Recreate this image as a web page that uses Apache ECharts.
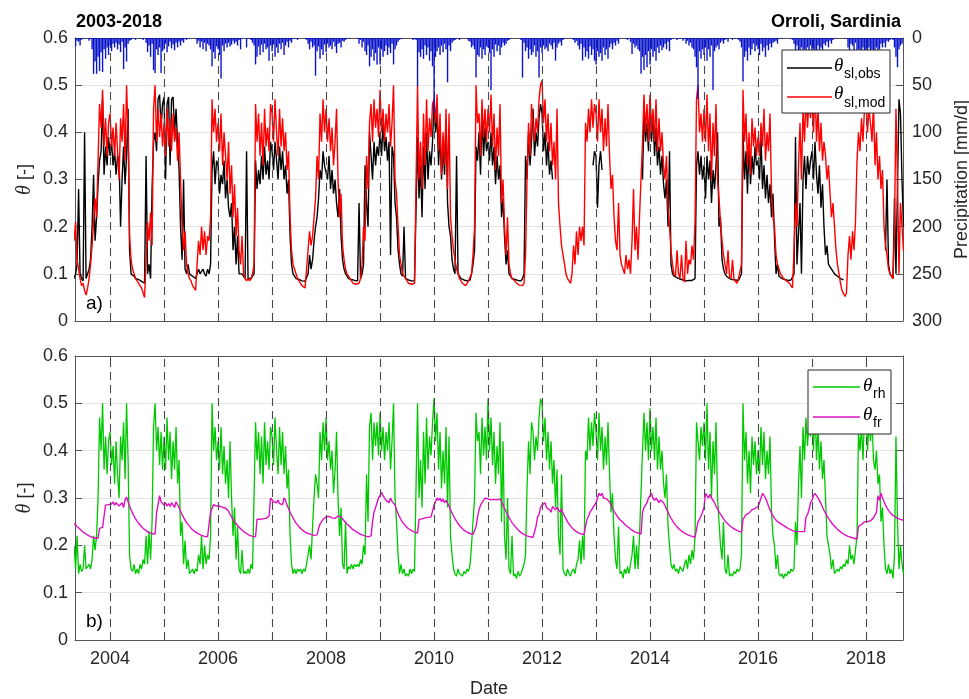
<!DOCTYPE html>
<html>
<head>
<meta charset="utf-8">
<script src="https://cdn.jsdelivr.net/npm/echarts@6/dist/echarts.min.js"></script>
<style>
  html, body { margin: 0; padding: 0; background: #fff; }
  #chart { width: 969px; height: 699px; }
</style>
</head>
<body>
<div id="chart"></div>
<script>
// Samples every 10 days (1st, 11th, 21st of each month), May 2003 to Sep 2018.
// One line per year; 2003 starts at May 1, 2018 ends at Sep 11.
const firstYear = 2003, lastYear = 2018;
const firstSlot = 12, lastSlot = 25;

// Observed soil-layer moisture (null = no measurement)
const thetaObs = [
/*2003*/ 0.09,0.10,0.12, 0.28,0.10,0.09, 0.085,0.40,0.09, 0.10,0.11,0.13, 0.20,0.31,0.17, 0.22,0.29,0.34, 0.36,0.47,0.31, 0.37,0.33,0.39,
/*2004*/ 0.35,0.38,0.33, 0.36,0.31,0.35, 0.34,0.20,0.30, 0.37,0.29,0.35, 0.45,0.15,0.10, 0.10,0.095,0.09, 0.09,0.088,0.085, 0.084,0.082,0.08, 0.35,0.10,0.12, 0.09,0.28,0.38, 0.40,0.36,0.47, 0.48,0.41,0.46,
/*2005*/ 0.475,0.30,0.46, 0.475,0.33,0.47, 0.475,0.40,0.45, 0.38,0.32,0.20, 0.13,0.30,0.11, 0.10,0.12,0.10, 0.10,0.095,0.092, 0.09,0.10,0.11, 0.10,0.105,0.11, 0.10,0.095,0.11, 0.10,0.12,0.32, 0.36,0.29,0.34,
/*2006*/ 0.33,0.27,0.31, 0.29,0.34,0.26, 0.30,0.24,0.22, 0.25,0.15,0.20, 0.12,0.18,0.10, 0.10,0.10,0.095, 0.09,0.36,0.09, 0.088,0.09,0.095, 0.10,0.34,0.28, 0.32,0.29,0.35, 0.30,0.37,0.31, 0.34,0.30,0.38,
/*2007*/ 0.36,0.32,0.38, 0.34,0.30,0.37, 0.32,0.36,0.30, 0.33,0.27,0.30, 0.18,0.12,0.10, 0.095,0.09,0.09, 0.088,0.086,0.085, 0.085,0.084,0.083, 0.10,0.14,0.11, 0.13,0.17,0.20, 0.22,0.26,0.32, 0.30,0.36,0.33,
/*2008*/ 0.33,0.30,0.35, 0.28,0.32,0.27, 0.30,0.25,0.22, 0.28,0.18,0.13, 0.11,0.10,0.095, 0.09,0.09,0.088, 0.087,0.086,0.085, 0.085,0.25,0.09, 0.10,0.12,0.33, 0.25,0.20,0.40, 0.35,0.30,0.38, 0.33,0.37,0.35,
/*2009*/ 0.40,0.35,0.42, 0.36,0.39,0.34, 0.38,0.14,0.37, 0.35,0.25,0.22, 0.15,0.12,0.10, 0.095,0.20,0.09, 0.088,0.087,0.086, 0.085,0.085,0.085, 0.085,0.39,0.26, 0.33,0.22,0.37, 0.28,0.40,0.30, 0.36,0.33,0.38,
/*2010*/ 0.47,0.40,0.44, 0.33,0.40,0.30, 0.37,0.31,0.42, 0.25,0.20,0.18, 0.13,0.11,0.10, 0.35,0.10,0.095, 0.09,0.088,0.087, 0.086,0.085,0.086, 0.087,0.10,0.12, 0.15,0.37,0.34, 0.40,0.31,0.44, 0.35,0.41,0.36,
/*2011*/ 0.38,0.34,0.40, 0.33,0.37,0.29, 0.35,0.30,0.33, 0.22,0.26,0.18, 0.12,0.15,0.10, 0.095,0.09,0.09, 0.088,0.087,0.086, 0.085,0.085,0.09, 0.10,0.35,0.30, 0.40,0.33,0.38, 0.45,0.35,0.40, 0.37,0.43,0.46,
/*2012*/ 0.44,0.36,0.40, 0.33,0.38,0.31, 0.34,0.30,null, null,null,null, null,null,null, null,null,null, null,null,null, null,null,null, null,null,null, null,null,null, null,null,null, null,0.33,0.36,
/*2013*/ 0.35,0.24,0.33, 0.36,0.32,null, null,null,null, null,null,null, null,null,null, null,null,null, null,null,null, null,null,null, null,null,null, null,null,null, null,0.30,0.45, 0.38,0.42,0.36,
/*2014*/ 0.47,0.38,0.44, 0.35,0.41,0.33, 0.37,0.31,0.35, 0.29,0.26,0.30, 0.20,0.36,0.12, 0.10,0.095,0.093, 0.092,0.09,0.089, 0.088,0.087,0.086, 0.085,0.085,0.086, 0.085,0.086,0.088, 0.09,0.33,0.36, 0.31,0.35,0.30,
/*2015*/ 0.33,0.26,0.35, 0.30,0.34,0.25, 0.32,0.28,0.33, 0.40,0.20,0.22, 0.13,0.11,0.10, 0.095,0.093,0.09, 0.09,0.088,0.087, 0.087,0.086,0.086, 0.088,0.10,0.40, 0.30,0.36,0.27, 0.38,0.29,0.35, 0.31,0.37,0.33,
/*2016*/ 0.34,0.30,0.39, 0.28,0.33,0.26, 0.31,0.25,0.29, 0.22,0.27,0.18, 0.10,0.12,0.095, 0.092,0.09,0.089, 0.088,0.087,0.086, 0.086,0.087,0.088, 0.10,0.39,0.12, 0.12,0.25,0.10, 0.30,0.35,0.28, 0.35,0.31,0.34,
/*2017*/ 0.36,0.30,0.38, 0.31,0.27,0.33, 0.24,0.29,0.20, 0.14,0.16,0.12, 0.115,0.11,0.105, 0.10,0.098,0.095, 0.093,0.09,0.088, 0.087,null,null, null,null,null, null,null,null, null,null,null, null,null,null,
/*2018*/ null,null,null, null,null,null, null,null,null, null,null,null, null,0.15,0.30, 0.12,0.10,0.095, 0.09,0.26,0.10, 0.10,0.47,0.44, 0.30,0.20
];

// Modelled soil-layer moisture
const thetaMod = [
/*2003*/ 0.17,0.21,0.13, 0.11,0.09,0.075, 0.08,0.065,0.055, 0.07,0.09,0.12, 0.16,0.21,0.26, 0.22,0.34,0.46, 0.41,0.49,0.37, 0.43,0.35,0.42,
/*2004*/ 0.44,0.37,0.41, 0.35,0.42,0.36, 0.30,0.43,0.38, 0.46,0.34,0.50, 0.40,0.18,0.13, 0.11,0.10,0.09, 0.085,0.08,0.075, 0.07,0.06,0.05, 0.13,0.21,0.17, 0.23,0.16,0.45, 0.50,0.38,0.45, 0.39,0.44,0.37,
/*2005*/ 0.42,0.35,0.45, 0.37,0.43,0.36, 0.44,0.38,0.41, 0.34,0.40,0.30, 0.20,0.15,0.19, 0.12,0.10,0.09, 0.085,0.075,0.07, 0.065,0.12,0.17, 0.14,0.20,0.15, 0.19,0.14,0.18, 0.17,0.22,0.47, 0.40,0.45,0.38,
/*2006*/ 0.42,0.36,0.44, 0.33,0.40,0.35, 0.30,0.38,0.27, 0.33,0.22,0.29, 0.18,0.24,0.15, 0.12,0.18,0.10, 0.09,0.085,0.09, 0.085,0.09,0.10, 0.12,0.46,0.38, 0.44,0.35,0.42, 0.33,0.45,0.37, 0.41,0.36,0.46,
/*2007*/ 0.44,0.38,0.47, 0.40,0.35,0.45, 0.37,0.43,0.36, 0.40,0.32,0.36, 0.22,0.15,0.12, 0.11,0.10,0.09, 0.085,0.08,0.075, 0.075,0.07,0.068, 0.15,0.19,0.16, 0.18,0.22,0.26, 0.35,0.30,0.44, 0.38,0.47,0.40,
/*2008*/ 0.45,0.38,0.43, 0.36,0.41,0.33, 0.38,0.45,0.30, 0.22,0.27,0.16, 0.13,0.11,0.10, 0.095,0.09,0.085, 0.08,0.08,0.078, 0.075,0.08,0.09, 0.12,0.20,0.17, 0.35,0.28,0.42, 0.46,0.38,0.47, 0.41,0.45,0.39,
/*2009*/ 0.49,0.40,0.45, 0.38,0.44,0.40, 0.46,0.37,0.42, 0.50,0.30,0.27, 0.20,0.14,0.12, 0.10,0.095,0.09, 0.085,0.08,0.08, 0.078,0.075,0.08, 0.08,0.50,0.30, 0.38,0.28,0.44, 0.33,0.47,0.36, 0.43,0.39,0.46,
/*2010*/ 0.47,0.42,0.48, 0.36,0.44,0.31, 0.40,0.33,0.45, 0.28,0.44,0.22, 0.18,0.15,0.13, 0.11,0.10,0.09, 0.085,0.08,0.078, 0.075,0.08,0.085, 0.085,0.10,0.14, 0.20,0.50,0.42, 0.44,0.35,0.47, 0.39,0.45,0.38,
/*2011*/ 0.45,0.40,0.48, 0.37,0.44,0.32, 0.41,0.35,0.46, 0.25,0.30,0.20, 0.14,0.22,0.12, 0.10,0.09,0.088, 0.085,0.08,0.078, 0.076,0.074,0.075, 0.08,0.14,0.30, 0.42,0.35,0.46, 0.46,0.38,0.43, 0.40,0.47,0.50,
/*2012*/ 0.51,0.42,0.47, 0.38,0.44,0.36, 0.42,0.33,0.38, 0.30,0.45,0.25, 0.20,0.16,0.14, 0.12,0.10,0.09, 0.085,0.08,0.10, 0.16,0.12,0.19, 0.14,0.20,0.17, 0.20,0.16,0.42, 0.38,0.45,0.40, 0.47,0.41,0.46,
/*2013*/ 0.44,0.38,0.47, 0.40,0.45,0.36, 0.43,0.37,0.46, 0.35,0.28,0.31, 0.22,0.17,0.15, 0.25,0.14,0.12, 0.12,0.10,0.14, 0.11,0.13,0.10, 0.17,0.28,0.15, 0.20,0.13,0.22, 0.22,0.38,0.48, 0.40,0.46,0.38,
/*2014*/ 0.48,0.40,0.45, 0.38,0.47,0.36, 0.43,0.36,0.40, 0.33,0.30,0.35, 0.24,0.20,0.15, 0.12,0.10,0.095, 0.15,0.10,0.09, 0.14,0.09,0.082, 0.17,0.10,0.13, 0.12,0.16,0.13, 0.21,0.47,0.50, 0.40,0.44,0.38,
/*2015*/ 0.45,0.38,0.48, 0.36,0.44,0.30, 0.42,0.35,0.46, 0.30,0.26,0.21, 0.17,0.14,0.12, 0.10,0.15,0.095, 0.09,0.13,0.088, 0.085,0.08,0.09, 0.09,0.12,0.49, 0.38,0.44,0.33, 0.40,0.31,0.43, 0.37,0.41,0.35,
/*2016*/ 0.39,0.35,0.42, 0.37,0.45,0.34, 0.40,0.36,0.44, 0.27,0.22,0.20, 0.14,0.12,0.11, 0.10,0.095,0.09, 0.088,0.085,0.083, 0.08,0.075,0.07, 0.15,0.25,0.20, 0.33,0.42,0.30, 0.45,0.38,0.48, 0.41,0.47,0.43,
/*2017*/ 0.47,0.40,0.50, 0.38,0.45,0.36, 0.42,0.34,0.38, 0.35,0.30,0.33, 0.27,0.22,0.25, 0.20,0.15,0.12, 0.10,0.08,0.065, 0.058,0.052,0.06, 0.14,0.18,0.13, 0.19,0.15,0.21, 0.34,0.40,0.36, 0.43,0.38,0.45,
/*2018*/ 0.47,0.40,0.45, 0.42,0.38,0.46, 0.33,0.40,0.30, 0.35,0.28,0.32, 0.20,0.16,0.14, 0.11,0.10,0.095, 0.09,0.20,0.45, 0.30,0.10,0.25, 0.20,0.15
];

// Root-horizon moisture
const thetaRh = [
/*2003*/ 0.20,0.15,0.22, 0.14,0.16,0.145, 0.15,0.20,0.15, 0.155,0.16,0.15, 0.17,0.22,0.19, 0.22,0.30,0.47, 0.40,0.50,0.36, 0.43,0.35,0.42,
/*2004*/ 0.44,0.37,0.41, 0.33,0.42,0.35, 0.30,0.43,0.38, 0.46,0.34,0.50, 0.38,0.18,0.15, 0.145,0.16,0.14, 0.15,0.14,0.16, 0.15,0.17,0.16, 0.22,0.16,0.23, 0.17,0.25,0.45, 0.50,0.40,0.45, 0.37,0.44,0.36,
/*2005*/ 0.43,0.36,0.47, 0.38,0.44,0.34, 0.42,0.36,0.45, 0.33,0.38,0.22, 0.25,0.16,0.21, 0.15,0.17,0.14, 0.145,0.15,0.14, 0.15,0.145,0.18, 0.16,0.22,0.15, 0.20,0.16,0.18, 0.17,0.22,0.50, 0.40,0.45,0.38,
/*2006*/ 0.42,0.36,0.45, 0.35,0.41,0.33, 0.38,0.30,0.42, 0.30,0.22,0.28, 0.17,0.24,0.15, 0.14,0.19,0.14, 0.145,0.14,0.15, 0.14,0.16,0.15, 0.15,0.46,0.38, 0.44,0.35,0.43, 0.33,0.46,0.37, 0.42,0.36,0.45,
/*2007*/ 0.43,0.37,0.47, 0.40,0.35,0.45, 0.37,0.44,0.35, 0.41,0.32,0.36, 0.22,0.16,0.14, 0.15,0.14,0.15, 0.145,0.15,0.14, 0.15,0.145,0.16, 0.16,0.20,0.17, 0.24,0.30,0.35, 0.33,0.30,0.44, 0.38,0.46,0.40,
/*2008*/ 0.47,0.38,0.42, 0.36,0.40,0.31, 0.36,0.44,0.30, 0.22,0.28,0.16, 0.15,0.25,0.14, 0.155,0.15,0.16, 0.15,0.16,0.155, 0.16,0.155,0.17, 0.16,0.20,0.18, 0.35,0.25,0.45, 0.48,0.38,0.46, 0.41,0.46,0.39,
/*2009*/ 0.48,0.40,0.45, 0.38,0.44,0.40, 0.46,0.36,0.42, 0.50,0.30,0.25, 0.18,0.14,0.16, 0.14,0.15,0.135, 0.14,0.135,0.15, 0.14,0.15,0.145, 0.145,0.50,0.30, 0.38,0.28,0.44, 0.33,0.47,0.36, 0.43,0.39,0.46,
/*2010*/ 0.51,0.42,0.48, 0.36,0.44,0.32, 0.40,0.33,0.45, 0.28,0.43,0.22, 0.18,0.15,0.14, 0.135,0.15,0.14, 0.14,0.135,0.145, 0.14,0.15,0.145, 0.16,0.20,0.25, 0.30,0.48,0.42, 0.44,0.35,0.47, 0.39,0.45,0.38,
/*2011*/ 0.51,0.40,0.47, 0.37,0.44,0.33, 0.41,0.35,0.46, 0.25,0.42,0.22, 0.17,0.30,0.15, 0.14,0.22,0.135, 0.14,0.13,0.145, 0.135,0.14,0.15, 0.16,0.18,0.32, 0.42,0.35,0.46, 0.44,0.38,0.43, 0.40,0.47,0.51,
/*2012*/ 0.50,0.42,0.47, 0.38,0.44,0.36, 0.42,0.33,0.38, 0.28,0.36,0.22, 0.18,0.35,0.15, 0.14,0.135,0.15, 0.14,0.135,0.145, 0.15,0.14,0.16, 0.17,0.21,0.16, 0.22,0.17,0.40, 0.38,0.47,0.40, 0.46,0.41,0.48,
/*2013*/ 0.44,0.38,0.48, 0.40,0.45,0.36, 0.43,0.37,0.46, 0.35,0.27,0.31, 0.22,0.17,0.15, 0.24,0.14,0.145, 0.13,0.15,0.14, 0.155,0.14,0.16, 0.18,0.22,0.15, 0.20,0.15,0.22, 0.22,0.40,0.48, 0.40,0.46,0.38,
/*2014*/ 0.49,0.40,0.45, 0.38,0.47,0.36, 0.43,0.36,0.40, 0.33,0.30,0.35, 0.24,0.20,0.16, 0.15,0.16,0.145, 0.15,0.14,0.155, 0.15,0.145,0.16, 0.17,0.15,0.18, 0.16,0.19,0.17, 0.22,0.46,0.42, 0.38,0.45,0.41,
/*2015*/ 0.46,0.38,0.50, 0.36,0.44,0.30, 0.42,0.35,0.46, 0.30,0.25,0.20, 0.17,0.25,0.15, 0.14,0.18,0.135, 0.14,0.135,0.145, 0.14,0.15,0.145, 0.15,0.18,0.50, 0.38,0.44,0.33, 0.40,0.31,0.43, 0.37,0.42,0.35,
/*2016*/ 0.40,0.35,0.45, 0.37,0.44,0.34, 0.40,0.35,0.43, 0.27,0.22,0.20, 0.15,0.18,0.14, 0.135,0.14,0.13, 0.14,0.135,0.145, 0.14,0.15,0.145, 0.15,0.25,0.20, 0.33,0.41,0.30, 0.45,0.38,0.47, 0.41,0.46,0.43,
/*2017*/ 0.47,0.40,0.50, 0.38,0.45,0.36, 0.42,0.34,0.38, 0.30,0.22,0.20, 0.18,0.15,0.17, 0.14,0.145,0.15, 0.145,0.155,0.15, 0.16,0.155,0.17, 0.16,0.20,0.17, 0.18,0.16,0.19, 0.22,0.44,0.40, 0.45,0.38,0.47,
/*2018*/ 0.48,0.40,0.46, 0.42,0.47,0.38, 0.36,0.40,0.33, 0.35,0.25,0.28, 0.20,0.15,0.14, 0.16,0.14,0.15, 0.13,0.18,0.43, 0.25,0.15,0.20, 0.16,0.14
];

// Fracture-domain moisture
const thetaFr = [
/*2003*/ 0.246,0.243,0.240, 0.237,0.234,0.231, 0.228,0.226,0.224, 0.222,0.220,0.218, 0.217,0.216,0.215, 0.214,0.215,0.236, 0.237,0.238,0.262, 0.285,0.288,0.286,
/*2004*/ 0.290,0.287,0.292, 0.285,0.290,0.288, 0.283,0.287,0.290, 0.280,0.296,0.302, 0.292,0.283,0.275, 0.268,0.262,0.256, 0.251,0.247,0.243, 0.239,0.236,0.233, 0.231,0.229,0.227, 0.226,0.225,0.224, 0.224,0.268,0.272, 0.305,0.292,0.288,
/*2005*/ 0.285,0.290,0.283, 0.288,0.282,0.290, 0.286,0.280,0.292, 0.290,0.280,0.272, 0.265,0.259,0.253, 0.248,0.244,0.240, 0.236,0.233,0.230, 0.228,0.226,0.224, 0.222,0.221,0.220, 0.219,0.218,0.218, 0.217,0.270,0.272, 0.286,0.285,0.283,
/*2006*/ 0.285,0.283,0.286, 0.280,0.282,0.279, 0.278,0.272,0.266, 0.260,0.255,0.250, 0.246,0.242,0.238, 0.235,0.232,0.229, 0.227,0.225,0.223, 0.221,0.220,0.219, 0.219,0.218,0.255, 0.256,0.255,0.254, 0.256,0.255,0.257, 0.260,0.262,0.300,
/*2007*/ 0.298,0.292,0.295, 0.290,0.296,0.288, 0.292,0.286,0.300, 0.295,0.285,0.278, 0.270,0.264,0.258, 0.252,0.247,0.243, 0.239,0.236,0.233, 0.230,0.228,0.226, 0.225,0.224,0.223, 0.222,0.221,0.220, 0.222,0.235,0.245, 0.250,0.255,0.258,
/*2008*/ 0.260,0.262,0.261, 0.260,0.258,0.259, 0.257,0.260,0.262, 0.264,0.260,0.256, 0.252,0.248,0.245, 0.242,0.239,0.236, 0.233,0.231,0.229, 0.227,0.225,0.223, 0.222,0.221,0.220, 0.219,0.218,0.217, 0.220,0.250,0.270, 0.280,0.290,0.300,
/*2009*/ 0.305,0.312,0.305, 0.300,0.295,0.298, 0.290,0.300,0.293, 0.296,0.285,0.275, 0.267,0.260,0.254, 0.249,0.245,0.241, 0.238,0.235,0.233, 0.231,0.229,0.228, 0.227,0.226,0.255, 0.258,0.256,0.259, 0.258,0.257,0.259, 0.258,0.260,0.259,
/*2010*/ 0.285,0.292,0.300, 0.295,0.300,0.292, 0.298,0.290,0.295, 0.292,0.283,0.275, 0.268,0.262,0.256, 0.251,0.246,0.242, 0.238,0.235,0.232, 0.230,0.228,0.226, 0.225,0.224,0.223, 0.223,0.240,0.260, 0.275,0.285,0.290, 0.295,0.300,0.298,
/*2011*/ 0.298,0.300,0.296, 0.300,0.297,0.299, 0.296,0.300,0.298, 0.292,0.285,0.278, 0.271,0.265,0.259, 0.253,0.248,0.244, 0.240,0.236,0.233, 0.230,0.227,0.225, 0.223,0.221,0.220, 0.219,0.218,0.217, 0.217,0.218,0.240, 0.260,0.265,0.280,
/*2012*/ 0.285,0.283,0.290, 0.280,0.278,0.275, 0.270,0.282,0.278, 0.275,0.280,0.276, 0.270,0.277,0.268, 0.262,0.256,0.250, 0.245,0.241,0.237, 0.234,0.231,0.229, 0.227,0.225,0.224, 0.224,0.223,0.240, 0.255,0.262,0.270, 0.275,0.280,0.285,
/*2013*/ 0.290,0.300,0.310, 0.305,0.310,0.300, 0.303,0.298,0.300, 0.292,0.285,0.278, 0.272,0.267,0.262, 0.258,0.254,0.251, 0.248,0.245,0.242, 0.239,0.237,0.234, 0.232,0.230,0.228, 0.227,0.226,0.225, 0.224,0.270,0.280, 0.285,0.290,0.300,
/*2014*/ 0.305,0.310,0.300, 0.295,0.300,0.298, 0.290,0.296,0.293, 0.290,0.284,0.277, 0.270,0.263,0.257, 0.252,0.247,0.243, 0.239,0.236,0.233, 0.230,0.228,0.226, 0.224,0.222,0.221, 0.220,0.219,0.218, 0.217,0.218,0.250, 0.255,0.262,0.270,
/*2015*/ 0.280,0.310,0.305, 0.300,0.308,0.300, 0.296,0.290,0.283, 0.277,0.271,0.266, 0.261,0.256,0.252, 0.248,0.245,0.242, 0.239,0.237,0.235, 0.233,0.231,0.230, 0.229,0.228,0.255, 0.260,0.265,0.262, 0.268,0.270,0.275, 0.272,0.278,0.280,
/*2016*/ 0.282,0.290,0.300, 0.310,0.305,0.300, 0.292,0.283,0.275, 0.268,0.262,0.257, 0.253,0.250,0.248, 0.246,0.244,0.242, 0.240,0.238,0.236, 0.234,0.232,0.231, 0.230,0.229,0.229, 0.229,0.229,0.229, 0.230,0.229,0.260, 0.265,0.275,0.290,
/*2017*/ 0.295,0.305,0.310, 0.305,0.300,0.295, 0.288,0.281,0.274, 0.268,0.262,0.257, 0.252,0.248,0.244, 0.240,0.237,0.234, 0.231,0.228,0.226, 0.224,0.222,0.220, 0.219,0.218,0.217, 0.216,0.215,0.214, 0.213,0.240,0.242, 0.244,0.248,0.250,
/*2018*/ 0.252,0.250,0.251, 0.252,0.255,0.258, 0.260,0.270,0.305, 0.295,0.310,0.300, 0.292,0.285,0.279, 0.274,0.270,0.266, 0.263,0.261,0.259, 0.257,0.256,0.255, 0.254,0.253
];

// Daily precipitation peaks per 10-day slot [mm/d]
const precip = [
/*2003*/ 6,9,3, 4,8,2, 0,1,0, 0,3,1, 12,38,25, 38,20,35, 15,36,12, 22,10,18,
/*2004*/ 8,14,6, 10,5,12, 7,15,4, 33,10,25, 6,3,2, 1,0,2, 0,0,1, 0,2,0, 5,15,8, 20,6,34, 37,12,18, 10,37,14,
/*2005*/ 12,6,15, 9,4,11, 7,13,5, 10,4,8, 3,5,1, 2,0,1, 0,0,0, 1,6,3, 10,4,12, 5,14,6, 8,12,30, 15,22,9,
/*2006*/ 12,18,43, 8,14,6, 10,5,9, 7,3,6, 4,8,2, 12,1,0, 0,10,0, 1,2,5, 8,28,20, 9,18,7, 15,6,12, 10,24,8,
/*2007*/ 14,7,20, 10,16,6, 12,5,18, 8,4,10, 3,5,1, 1,0,2, 0,0,0, 0,1,2, 6,12,4, 10,8,40, 14,9,22, 12,18,7,
/*2008*/ 15,6,10, 8,12,4, 9,16,6, 5,10,3, 4,2,1, 0,1,0, 0,0,0, 1,6,2, 10,4,14, 18,8,30, 20,12,24, 16,28,10,
/*2009*/ 28,12,20, 14,8,18, 10,16,6, 28,12,8, 4,2,1, 1,0,0, 0,0,0, 0,2,1, 2,51,15, 20,12,22, 8,18,10, 24,14,30,
/*2010*/ 80,20,14, 10,18,8, 15,6,12, 47,8,14, 5,3,2, 1,0,2, 0,0,0, 0,1,3, 4,10,8, 12,42,18, 20,10,22, 12,18,9,
/*2011*/ 10,16,55, 12,20,7, 14,8,18, 10,5,8, 6,3,2, 1,0,0, 0,0,0, 0,2,42, 5,14,10, 22,12,18, 15,8,20, 14,42,10,
/*2012*/ 16,8,12, 10,14,6, 8,12,5, 24,10,6, 4,8,2, 1,0,0, 0,0,1, 2,5,3, 8,12,6, 24,10,20, 14,22,9, 18,12,24,
/*2013*/ 28,14,20, 16,24,10, 18,12,22, 10,6,12, 5,8,3, 6,1,0, 0,0,1, 2,0,4, 17,6,10, 8,12,14, 38,20,34, 18,31,14,
/*2014*/ 28,12,20, 14,24,10, 16,8,13, 10,6,12, 4,14,2, 1,0,0, 2,0,1, 0,3,1, 6,3,8, 5,10,12, 20,31,65, 14,22,12,
/*2015*/ 18,10,24, 12,20,8, 55,14,10, 8,12,5, 3,6,2, 1,4,0, 0,2,0, 1,0,2, 4,10,46, 20,14,24, 10,18,12, 6,14,8,
/*2016*/ 12,18,6, 14,10,20, 8,13,6, 10,5,4, 3,6,1, 0,1,0, 0,0,0, 1,0,2, 6,18,8, 14,20,10, 18,12,22, 10,16,8,
/*2017*/ 20,12,16, 14,8,18, 10,15,6, 8,4,10, 3,6,2, 0,1,0, 0,0,0, 0,1,0, 10,16,6, 8,14,5, 18,12,20, 16,10,22,
/*2018*/ 14,20,10, 18,12,22, 16,10,14, 12,6,10, 5,10,3, 4,2,1, 2,10,20, 31,12,8, 6,4
];

const yearLines = [2004,2005,2006,2007,2008,2009,2010,2011,2012,2013,2014,2015,2016,2017,2018];
const yearLabels = [2004,2006,2008,2010,2012,2014,2016,2018];

// Decimal-year position of every 10-day slot
const slotTimes = [];
for (let y = firstYear; y <= lastYear; y++) {
  const a = y === firstYear ? firstSlot : 0;
  const b = y === lastYear ? lastSlot : 35;
  for (let i = a; i <= b; i++) {
    const month = Math.floor(i / 3), part = (i % 3) * 10 / 30.4;
    slotTimes.push(y + (month + part) / 12);
  }
}
const pairs = arr => slotTimes.map((t, k) => [t, arr[k] === undefined ? null : arr[k]]);

const FONT = '"Liberation Sans", Arial, Helvetica, sans-serif';
const AX = '#555555';
const TXT = '#262626';
const xMin = 2003.35, xMax = 2018.685;

function xBase(grid, pos, labels) {
  return {
    gridIndex: grid, type: 'value', position: pos, min: xMin, max: xMax,
    axisLine: { show: true, onZero: false, lineStyle: { color: AX, width: 1 } },
    axisTick: { show: true, inside: true, length: 7, customValues: yearLabels, lineStyle: { color: AX } },
    axisLabel: labels ? { show: true, customValues: yearLabels, fontFamily: FONT, fontSize: 18, color: TXT, margin: 10, formatter: v => String(Math.round(v)) } : { show: false },
    splitLine: { show: false }
  };
}
function yTheta(grid, pos, labels, name) {
  return {
    gridIndex: grid, type: 'value', position: pos, min: 0, max: 0.6, interval: 0.1,
    axisLine: { show: true, lineStyle: { color: AX, width: 1 } },
    axisTick: { show: true, inside: true, length: 7, lineStyle: { color: AX } },
    axisLabel: labels ? { show: true, fontFamily: FONT, fontSize: 18, color: TXT, margin: 7, formatter: v => v === 0 ? '0' : v.toFixed(1) } : { show: false },
    splitLine: { show: labels, lineStyle: { color: '#e3e3e3', width: 1 } },
    name: name || '', nameLocation: 'middle', nameGap: 40, nameRotate: 90, nameMoveOverlap: false,
    nameTextStyle: { fontFamily: FONT, fontSize: 18, color: TXT, rich: { i: { fontFamily: '"Liberation Serif", serif', fontStyle: 'italic', fontSize: 20, color: TXT } } }
  };
}
const yearMarks = {
  silent: true, symbol: ['none', 'none'], label: { show: false },
  lineStyle: { type: [8, 5], color: '#4a4a4a', width: 1.1 },
  data: yearLines.map(y => ({ xAxis: y }))
};

// Thin daily bars hanging from the top of the upper panel
function precipBar(params, api) {
  const t = api.value(0), v = api.value(1);
  if (!v) return null;
  const p0 = api.coord([t, 0]);
  const p1 = api.coord([t, v]);
  return {
    type: 'rect',
    shape: { x: p0[0] - 0.7, y: p0[1], width: 1.4, height: p1[1] - p0[1] },
    style: { fill: '#0a14c8' }
  };
}

const chart = echarts.init(document.getElementById('chart'), null, { renderer: 'canvas' });
chart.setOption({
  animation: false,
  backgroundColor: '#fff',
  grid: [
    { left: 75, top: 38, width: 828, height: 283, outerBoundsMode: 'none', containLabel: false },
    { left: 75, top: 356, width: 828, height: 284, outerBoundsMode: 'none', containLabel: false }
  ],
  xAxis: [
    xBase(0, 'bottom', false),
    Object.assign(xBase(1, 'bottom', true), { name: 'Date', nameLocation: 'middle', nameGap: 40, nameTextStyle: { fontFamily: FONT, fontSize: 18, color: TXT } }),
    xBase(0, 'top', false),
    xBase(1, 'top', false)
  ],
  yAxis: [
    yTheta(0, 'left', true, '{i|θ} [-]'),
    {
      gridIndex: 0, type: 'value', position: 'right', min: 0, max: 300, interval: 50, inverse: true,
      axisLine: { show: true, lineStyle: { color: AX, width: 1 } },
      axisTick: { show: true, inside: true, length: 7, lineStyle: { color: AX } },
      axisLabel: { fontFamily: FONT, fontSize: 18, color: TXT, margin: 9 },
      splitLine: { show: false },
      name: 'Precipitation [mm/d]', nameLocation: 'middle', nameGap: 48, nameRotate: 90,
      nameTextStyle: { fontFamily: FONT, fontSize: 18, color: TXT }
    },
    yTheta(1, 'left', true, '{i|θ} [-]'),
    yTheta(1, 'right', false)
  ],
  series: [
    { name: 'years-a', type: 'line', xAxisIndex: 0, yAxisIndex: 0, data: [], z: 1, markLine: yearMarks },
    { name: 'obs', type: 'line', xAxisIndex: 0, yAxisIndex: 0, data: pairs(thetaObs), showSymbol: false, connectNulls: false,
      lineStyle: { color: '#000', width: 1.4 }, itemStyle: { color: '#000' }, z: 3 },
    { name: 'mod', type: 'line', xAxisIndex: 0, yAxisIndex: 0, data: pairs(thetaMod), showSymbol: false,
      lineStyle: { color: '#ff0000', width: 1.4 }, itemStyle: { color: '#ff0000' }, z: 4 },
    { name: 'precip', type: 'custom', xAxisIndex: 0, yAxisIndex: 1, data: pairs(precip), renderItem: precipBar,
      clip: true, encode: { x: 0, y: 1 }, z: 5 },
    { name: 'years-b', type: 'line', xAxisIndex: 1, yAxisIndex: 2, data: [], z: 1, markLine: yearMarks },
    { name: 'rh', type: 'line', xAxisIndex: 1, yAxisIndex: 2, data: pairs(thetaRh), showSymbol: false,
      lineStyle: { color: '#00c800', width: 1.3 }, itemStyle: { color: '#00c800' }, z: 3 },
    { name: 'fr', type: 'line', xAxisIndex: 1, yAxisIndex: 2, data: pairs(thetaFr), showSymbol: false,
      lineStyle: { color: '#e010c0', width: 1.4 }, itemStyle: { color: '#e010c0' }, z: 4 }
  ],
  graphic: [
    { type: 'text', left: 76, top: 13, style: { text: '2003-2018', font: 'bold 18px ' + FONT, fill: '#000' } },
    { type: 'text', right: 68, top: 13, style: { text: 'Orroli, Sardinia', font: 'bold 18px ' + FONT, fill: '#000' } },
    { type: 'text', left: 86, top: 294, style: { text: 'a)', font: '19px ' + FONT, fill: '#000' }, z: 10 },
    { type: 'text', left: 86, top: 612, style: { text: 'b)', font: '19px ' + FONT, fill: '#000' }, z: 10 },
    // legend, upper panel
    { type: 'rect', shape: { x: 782, y: 50, width: 108, height: 63 }, style: { fill: '#fff', stroke: '#262626', lineWidth: 1 }, z: 20 },
    { type: 'line', shape: { x1: 787, y1: 68, x2: 832, y2: 68 }, style: { stroke: '#000', lineWidth: 1.4 }, z: 21 },
    { type: 'text', x: 834, y: 66, style: { text: 'θ', font: 'italic 19px "Liberation Serif", serif', fill: '#000', verticalAlign: 'middle' }, z: 21 },
    { type: 'text', x: 844, y: 74, style: { text: 'sl,obs', font: '14px ' + FONT, fill: '#000', verticalAlign: 'middle' }, z: 21 },
    { type: 'line', shape: { x1: 787, y1: 97, x2: 832, y2: 97 }, style: { stroke: '#ff0000', lineWidth: 1.4 }, z: 21 },
    { type: 'text', x: 834, y: 94, style: { text: 'θ', font: 'italic 19px "Liberation Serif", serif', fill: '#000', verticalAlign: 'middle' }, z: 21 },
    { type: 'text', x: 844, y: 103, style: { text: 'sl,mod', font: '14px ' + FONT, fill: '#000', verticalAlign: 'middle' }, z: 21 },
    // legend, lower panel
    { type: 'rect', shape: { x: 808, y: 370, width: 83, height: 64 }, style: { fill: '#fff', stroke: '#262626', lineWidth: 1 }, z: 20 },
    { type: 'line', shape: { x1: 813, y1: 387, x2: 860, y2: 387 }, style: { stroke: '#00c800', lineWidth: 1.4 }, z: 21 },
    { type: 'text', x: 863, y: 386, style: { text: 'θ', font: 'italic 19px "Liberation Serif", serif', fill: '#000', verticalAlign: 'middle' }, z: 21 },
    { type: 'text', x: 873, y: 394, style: { text: 'rh', font: '14px ' + FONT, fill: '#000', verticalAlign: 'middle' }, z: 21 },
    { type: 'line', shape: { x1: 813, y1: 417, x2: 860, y2: 417 }, style: { stroke: '#e010c0', lineWidth: 1.4 }, z: 21 },
    { type: 'text', x: 863, y: 415, style: { text: 'θ', font: 'italic 19px "Liberation Serif", serif', fill: '#000', verticalAlign: 'middle' }, z: 21 },
    { type: 'text', x: 873, y: 423, style: { text: 'fr', font: '14px ' + FONT, fill: '#000', verticalAlign: 'middle' }, z: 21 }
  ]
});
</script>
</body>
</html>
